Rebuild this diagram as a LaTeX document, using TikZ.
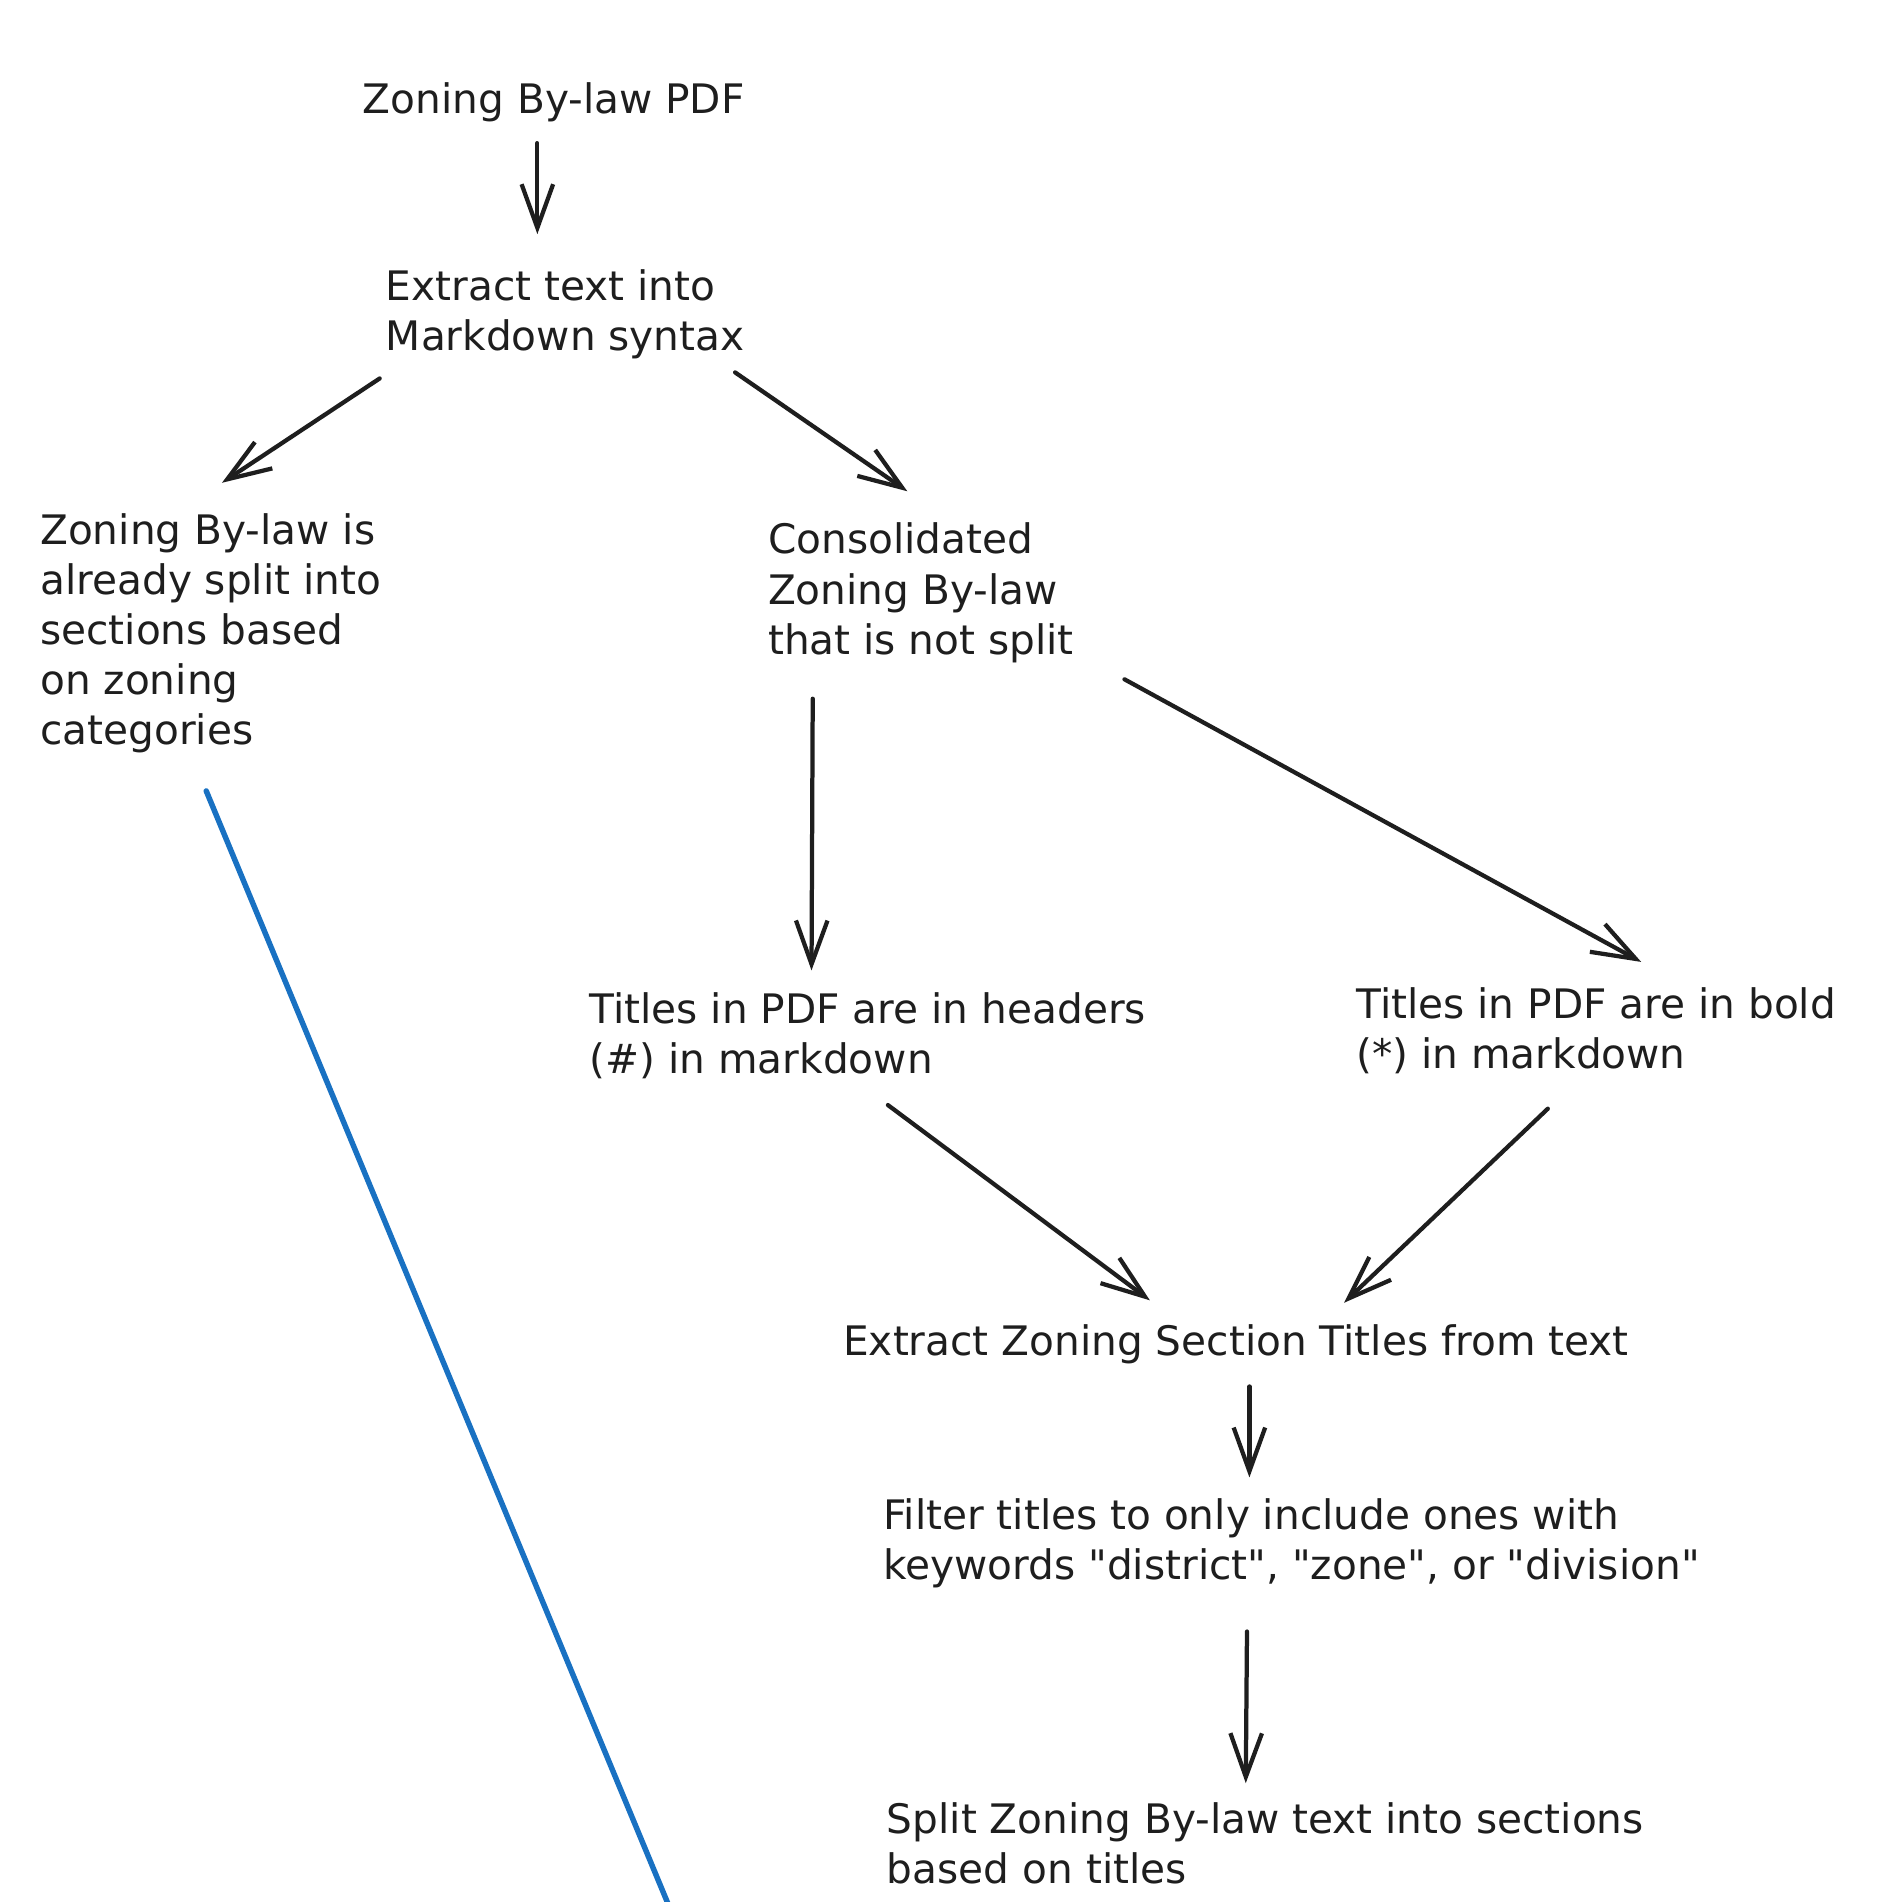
\documentclass[tikz,border=0pt]{standalone}
\usepackage{fontspec}
\setmainfont{DejaVu Sans}[Ligatures=TeXOff]
\usetikzlibrary{arrows.meta}
\definecolor{ink}{HTML}{1E1E1E}
\definecolor{pen}{HTML}{1971C2}
\begin{document}
\begin{tikzpicture}[x=1pt, y=-1pt, >={Straight Barb[length=36pt,width=26pt]},
        every node/.style={inner sep=0pt, anchor=north west, align=left, text=ink, font=\fontsize{33.5}{41.3}\selectfont},
        flow/.style={line width=3.5pt, draw=ink, line cap=round, line join=round, ->},
        stroke/.style={line width=4.5pt, draw=pen, line cap=round}]
    \useasboundingbox (0,0) rectangle (1548,1568);

    \node (pdf) at (299,68) {Zoning By-law PDF};
    \node (extract) at (318,222) {Extract text into\\Markdown syntax};
    \node (presplit) at (33,423) {Zoning By-law is\\already split into\\sections based\\on zoning\\categories};
    \node (consol) at (633,431) {Consolidated\\Zoning By-law\\that is not split};
    \node (headers) at (486,818) {Titles in PDF are in headers\\(\#) in markdown};
    \node (bold) at (1118,814) {Titles in PDF are in bold\\(*) in markdown};
    \node (titles) at (695,1092) {Extract Zoning Section Titles from text};
    \node (filter) at (728,1235) {Filter titles to only include ones with\\keywords "district", "zone", or "division"};
    \node (sections) at (731,1486) {Split Zoning By-law text into sections\\based on titles};
    \coordinate (cut) at (553,1575);

    \draw [flow] ([shift={(144,50)}]pdf.north west) -- ([shift={(125,-29)}]extract.north west);
    \draw [flow] ([shift={(-5,90)}]extract.north west) -- ([shift={(150,-25)}]presplit.north west);
    \draw [flow] ([shift={(288,85)}]extract.north west) -- ([shift={(115,-26)}]consol.north west);
    \draw [flow] ([shift={(37,145)}]consol.north west) -- ([shift={(183,-18)}]headers.north west);
    \draw [flow] ([shift={(294,129)}]consol.north west) -- ([shift={(235,-21)}]bold.north west);
    \draw [flow] ([shift={(246,93)}]headers.north west) -- ([shift={(253,-20)}]titles.north west);
    \draw [flow] ([shift={(158,100)}]bold.north west) -- ([shift={(413,-18)}]titles.north west);
    \draw [flow] ([shift={(335,51)}]titles.north west) -- ([shift={(302,-17)}]filter.north west);
    \draw [flow] ([shift={(300,110)}]filter.north west) -- ([shift={(296,-16)}]sections.north west);
    \draw [stroke] ([shift={(137,229)}]presplit.north west) -- (cut);
\end{tikzpicture}
\end{document}
